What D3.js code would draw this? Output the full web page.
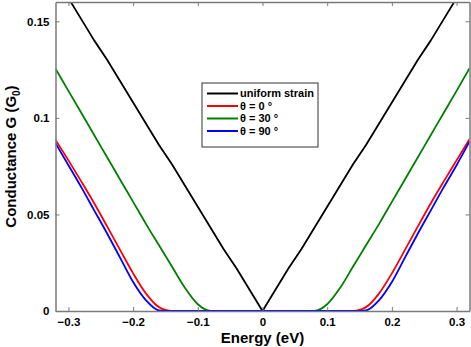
<!DOCTYPE html>
<html>
<head>
<meta charset="utf-8">
<script src="https://cdn.jsdelivr.net/npm/d3@7"></script>
<style>
  body { margin: 0; background: #fff; }
  svg { display: block; font-family: "Liberation Sans", Arial, sans-serif; }
</style>
</head>
<body>
<svg id="chart" width="471" height="347"></svg>
<script>
// energy grid (eV)
const energy = [-0.32, -0.30, -0.28, -0.26, -0.24, -0.22, -0.20, -0.18, -0.16, -0.14, -0.12, -0.10, -0.08, -0.06, -0.04, -0.02, 0,
                 0.02, 0.04, 0.06, 0.08, 0.10, 0.12, 0.14, 0.16, 0.18, 0.20, 0.22, 0.24, 0.26, 0.28, 0.30, 0.32];

const uniformStrain = [0.173, 0.162, 0.151, 0.140, 0.130, 0.119, 0.108, 0.097, 0.086, 0.076, 0.065, 0.054, 0.043, 0.032, 0.022, 0.011, 0,
                       0.011, 0.022, 0.032, 0.043, 0.054, 0.065, 0.076, 0.086, 0.097, 0.108, 0.119, 0.130, 0.140, 0.151, 0.162, 0.173];
const theta0  = [0.0886, 0.0780, 0.0670, 0.0557, 0.0437, 0.0315, 0.0195, 0.0090, 0.0020, 0, 0, 0, 0, 0, 0, 0, 0,
                 0, 0, 0, 0, 0, 0, 0, 0.0020, 0.0090, 0.0195, 0.0315, 0.0437, 0.0557, 0.0670, 0.0780, 0.0890];
const theta30 = [0.1255, 0.1140, 0.1025, 0.0910, 0.0795, 0.0680, 0.0565, 0.0450, 0.0340, 0.0230, 0.0120, 0.0035, 0, 0, 0, 0, 0,
                 0, 0, 0, 0, 0.0035, 0.0120, 0.0230, 0.0340, 0.0450, 0.0565, 0.0680, 0.0795, 0.0910, 0.1025, 0.1140, 0.1257];
const theta90 = [0.0869, 0.0755, 0.0640, 0.0520, 0.0400, 0.0275, 0.0150, 0.0055, 0.0003, 0, 0, 0, 0, 0, 0, 0, 0,
                 0, 0, 0, 0, 0, 0, 0, 0.0003, 0.0055, 0.0150, 0.0275, 0.0400, 0.0520, 0.0640, 0.0755, 0.0877];

const seriesNames = ["uniform strain", "\u03b8 = 0 \u00b0", "\u03b8 = 30 \u00b0", "\u03b8 = 90 \u00b0"];
const seriesColors = ["#000000", "#ff0000", "#008000", "#0000ff"];
const seriesValues = [uniformStrain, theta0, theta30, theta90];
// drawing order: black, green, red, blue on top
const drawOrder = [0, 2, 1, 3];

const xTicks = [-0.3, -0.2, -0.1, 0, 0.1, 0.2, 0.3];
const yTicks = [0, 0.05, 0.1, 0.15];

const svg = d3.select("#chart");
const margin = { left: 55.5, right: 1.5, top: 2, bottom: 36 };
const width = +svg.attr("width");
const height = +svg.attr("height");

const x = d3.scaleLinear().domain([-0.32, 0.32]).range([margin.left, width - margin.right]);
const y = d3.scaleLinear().domain([0, 0.16]).range([height - margin.bottom, margin.top]);

svg.append("clipPath").attr("id", "clip")
  .append("rect")
  .attr("x", margin.left).attr("y", margin.top)
  .attr("width", x.range()[1] - x.range()[0])
  .attr("height", y.range()[0] - y.range()[1]);

const smoothLine = d3.line()
  .x(d => x(d[0]))
  .y(d => y(d[1]))
  .curve(d3.curveMonotoneX);
// the uniform strain curve is a sharp V, no smoothing
const straightLine = d3.line()
  .x(d => x(d[0]))
  .y(d => y(d[1]));

const plot = svg.append("g").attr("clip-path", "url(#clip)");
drawOrder.forEach(i => {
  plot.append("path")
    .datum(energy.map((e, k) => [e, seriesValues[i][k]]))
    .attr("fill", "none")
    .attr("stroke", seriesColors[i])
    .attr("stroke-width", 1.8)
    .attr("stroke-linejoin", "round")
    .attr("d", i === 0 ? straightLine : smoothLine);
});

// axes box (ticks pointing inward)
const axisColor = "#7a7a7a";
const x0 = x.range()[0], x1 = x.range()[1], y0 = y.range()[0], y1 = y.range()[1];

const xAxis = svg.append("g").attr("transform", `translate(0,${y0})`)
  .call(d3.axisBottom(x).tickValues(xTicks).tickSizeInner(-4).tickSizeOuter(0).tickPadding(7)
    .tickFormat(d => d === 0 ? "0" : d3.format(".1f")(d)));
const xAxisTop = svg.append("g").attr("transform", `translate(0,${y1})`)
  .call(d3.axisTop(x).tickValues(xTicks).tickSizeInner(-4).tickSizeOuter(0).tickFormat(""));
const yAxis = svg.append("g").attr("transform", `translate(${x0},0)`)
  .call(d3.axisLeft(y).tickValues(yTicks).tickSizeInner(-4).tickSizeOuter(0).tickPadding(6)
    .tickFormat(d => d === 0 ? "0" : String(d)));
const yAxisRight = svg.append("g").attr("transform", `translate(${x1},0)`)
  .call(d3.axisRight(y).tickValues(yTicks).tickSizeInner(-4).tickSizeOuter(0).tickFormat(""));

[xAxis, xAxisTop, yAxis, yAxisRight].forEach(g => {
  g.select(".domain").attr("stroke", axisColor).attr("stroke-width", 1.5);
  g.selectAll(".tick line").attr("stroke", axisColor);
  g.selectAll(".tick text")
    .attr("fill", "#000")
    .attr("font-size", "11.5px")
    .attr("font-weight", "bold")
    .attr("font-family", "'Liberation Sans', Arial, sans-serif");
});

// axis titles
svg.append("text")
  .attr("x", x(0))
  .attr("y", 343)
  .attr("text-anchor", "middle")
  .attr("font-size", "15px")
  .attr("font-weight", "bold")
  .text("Energy (eV)");

const yTitle = svg.append("text")
  .attr("transform", `translate(16,${(y0 + y1) / 2}) rotate(-90)`)
  .attr("text-anchor", "middle")
  .attr("font-size", "15px")
  .attr("font-weight", "bold");
yTitle.append("tspan").text("Conductance G (G");
yTitle.append("tspan").attr("font-size", "10px").attr("dy", 4).text("0");
yTitle.append("tspan").attr("dy", -4).text(")");

// legend
const legend = svg.append("g").attr("transform", "translate(202,83)");
legend.append("rect")
  .attr("width", 116).attr("height", 64)
  .attr("fill", "#fff")
  .attr("stroke", "#333").attr("stroke-width", 1);

seriesNames.forEach((name, i) => {
  const row = legend.append("g").attr("transform", `translate(0,${10.5 + i * 12.5})`);
  row.append("line")
    .attr("x1", 5).attr("x2", 36)
    .attr("stroke", seriesColors[i]).attr("stroke-width", 2);
  row.append("text")
    .attr("x", 38).attr("dy", "0.35em")
    .attr("font-size", "11px")
    .attr("font-weight", "bold")
    .text(name);
});
</script>
</body>
</html>
